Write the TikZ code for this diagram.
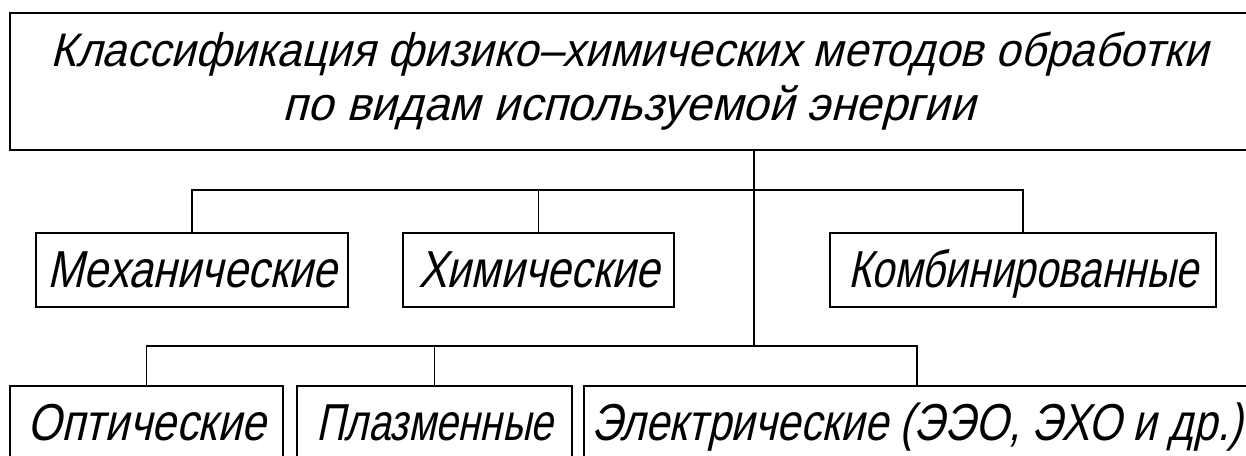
\documentclass[tikz,border=0pt]{standalone}
\usepackage{fontspec}
\setmainfont{Liberation Sans}[FakeSlant=0.27]
\newcommand\fitw[2]{\resizebox{#1}{\height}{#2}}
\begin{document}
\begin{tikzpicture}[x=1pt,y=-1pt,
  box/.style={draw, line width=2pt, rectangle, inner sep=0pt,
    minimum height=74pt, text height=37pt, text depth=2pt,
    font=\fontsize{52}{56}\selectfont},
  link/.style={line width=1.8pt}]
\useasboundingbox (0,0) rectangle (1246,455);
\clip (0,0) rectangle (1246,455);
\node[draw, line width=2pt, rectangle, inner sep=0pt, minimum width=1238pt,
  minimum height=137pt, align=center, font=\fontsize{47}{54}\selectfont]
  (top) at (629,81.5)
  {\fitw{1157pt}{Классификация физико–химических методов обработки}\\
   \fitw{692pt}{по видам используемой энергии}};
\node[box, minimum width=312pt] (meh) at (192,270) {\fitw{290pt}{Механические}};
\node[box, minimum width=271pt] (him) at (538.5,270) {\fitw{241pt}{Химические}};
\node[box, minimum width=386pt] (komb) at (1023,270) {\fitw{350pt}{Комбинированные}};
\node[box, minimum width=273pt] (opt) at (146.5,423) {\fitw{238pt}{Оптические}};
\node[box, minimum width=275pt] (plaz) at (434.5,423) {\fitw{237pt}{Плазменные}};
\node[box, minimum width=666pt] (el) at (917,423) {\fitw{652pt}{Электрические (ЭЭО, ЭХО и др.)}};
\coordinate (j1) at (754,190);
\coordinate (j2) at (754,346);
\draw[link] (top.south -| j1) -- (j2);
\draw[link] (meh.north) |- (j1) -| (komb.north);
\draw[link] (him.north) -- (him.north |- j1);
\draw[link] (opt.north) |- (j2) -| (el.north);
\draw[link] (plaz.north) -- (plaz.north |- j2);
\end{tikzpicture}
\end{document}
